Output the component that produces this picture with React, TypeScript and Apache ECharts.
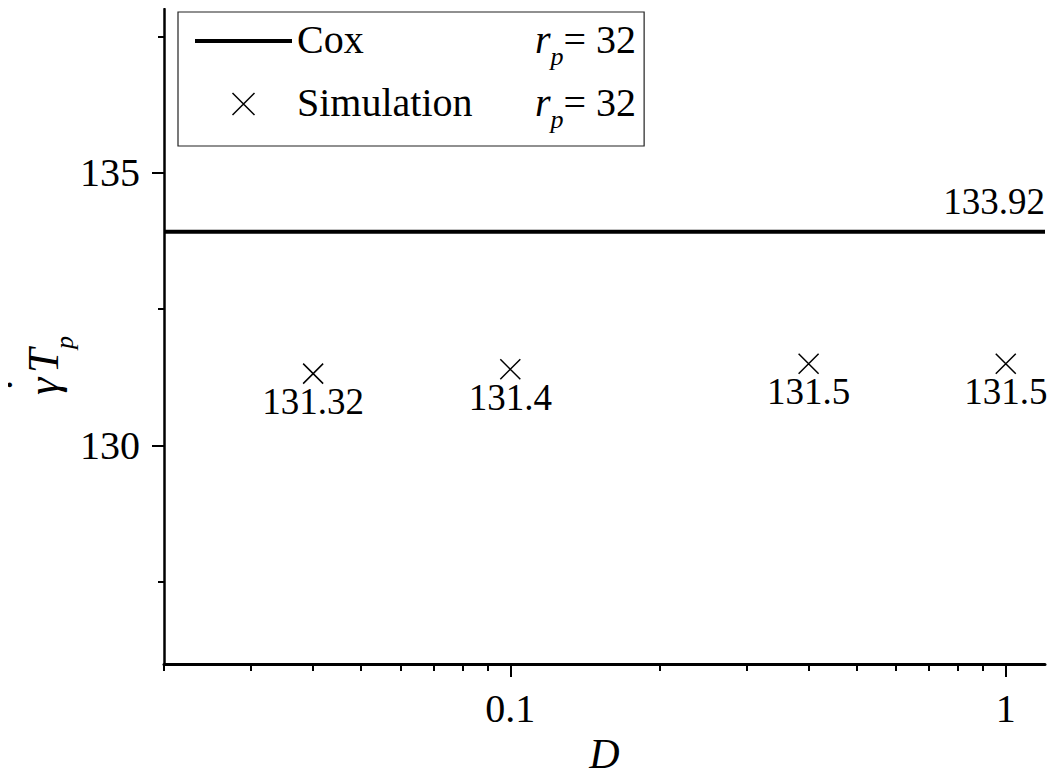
import React, { useEffect, useRef } from "react";
import * as echarts from "echarts";

// Diffusion coefficient D on the x axis (log scale), shear time on the y axis
const dRange = [0.02, 1.2];
const yRange = [126, 138];
const simD = [0.04, 0.1, 0.4, 1];
const simValues = [131.32, 131.4, 131.5, 131.5];
const coxValue = 133.92;
const rpValue = 32;
const seriesNames = ["Cox", "Simulation"];
const xMajorTicks = [0.1, 1];
const xMinorTicks = [0.02, 0.03, 0.04, 0.05, 0.06, 0.07, 0.08, 0.09, 0.2, 0.3, 0.4, 0.5, 0.6, 0.7, 0.8, 0.9];
const yMajorTicks = [130, 135];
const yMinorTicks = [127.5, 132.5, 137.5];

const FONT = "Liberation Serif, Times New Roman, serif";
const CROSS = "path://M0,0L20,20M20,0L0,20";

function buildOption(): echarts.EChartsCoreOption {
  const baseAxis = {
    splitLine: { show: false },
    minorTick: { show: false },
    minorSplitLine: { show: false },
  };
  const tokenBase = { fontFamily: FONT, color: "#000", verticalAlign: "top" };
  return {
    animation: false,
    backgroundColor: "#fff",
    grid: {
      left: 164,
      top: 9,
      width: 881,
      height: 655,
      containLabel: false,
      outerBoundsMode: "none",
    },
    legend: {
      orient: "vertical",
      left: 178,
      top: 12,
      padding: [7, 8, 14, 15],
      itemGap: 13,
      itemWidth: 97,
      itemHeight: 22,
      borderColor: "#222",
      borderWidth: 1.2,
      borderRadius: 0,
      selectedMode: false,
      lineStyle: { width: 4, color: "#000" },
      data: [
        {
          name: seriesNames[0],
          itemStyle: { color: "rgba(0,0,0,0)", borderWidth: 0, opacity: 0 },
        },
        {
          name: seriesNames[1],
          itemStyle: { color: "none", borderColor: "#000", borderWidth: 1.5, opacity: 1 },
        },
      ],
      formatter: (name: string) => `{a|${name}}{r|r}{p|p}{e|= ${rpValue}}`,
      textStyle: {
        fontFamily: FONT,
        fontSize: 40,
        color: "#000",
        rich: {
          a: { ...tokenBase, width: 238, fontSize: 40, lineHeight: 44 },
          r: { ...tokenBase, fontSize: 40, fontStyle: "italic", lineHeight: 44 },
          p: { ...tokenBase, fontSize: 26, fontStyle: "italic", lineHeight: 26, padding: [24, 0, 0, 0] },
          e: { ...tokenBase, fontSize: 40, lineHeight: 44 },
        },
      },
    },
    xAxis: [
      {
        ...baseAxis,
        type: "log",
        logBase: 10,
        min: dRange[0],
        max: dRange[1],
        position: "bottom",
        name: "D",
        nameLocation: "middle",
        nameGap: 51,
        nameTextStyle: { fontFamily: FONT, fontSize: 42, fontStyle: "italic", color: "#000" },
        axisLine: { show: true, onZero: false, lineStyle: { color: "#000", width: 3 } },
        axisTick: { show: true, length: 13, customValues: xMajorTicks, lineStyle: { color: "#000", width: 2 } },
        axisLabel: {
          show: true,
          customValues: xMajorTicks,
          formatter: (v: number) => String(v),
          fontFamily: FONT,
          fontSize: 40,
          color: "#000",
          margin: 24,
        },
      },
      {
        ...baseAxis,
        type: "log",
        logBase: 10,
        min: dRange[0],
        max: dRange[1],
        position: "bottom",
        offset: 0,
        axisLine: { show: false, onZero: false },
        axisTick: { show: true, length: 7, customValues: xMinorTicks, lineStyle: { color: "#000", width: 2 } },
        axisLabel: { show: false },
      },
    ],
    yAxis: [
      {
        ...baseAxis,
        type: "value",
        min: yRange[0],
        max: yRange[1],
        position: "left",
        axisLine: { show: true, onZero: false, lineStyle: { color: "#000", width: 2.5 } },
        axisTick: { show: true, length: 12, customValues: yMajorTicks, lineStyle: { color: "#000", width: 2 } },
        axisLabel: {
          show: true,
          customValues: yMajorTicks,
          fontFamily: FONT,
          fontSize: 40,
          color: "#000",
          margin: 24,
        },
      },
      {
        ...baseAxis,
        type: "value",
        min: yRange[0],
        max: yRange[1],
        position: "left",
        offset: 0,
        axisLine: { show: false, onZero: false },
        axisTick: { show: true, length: 6, customValues: yMinorTicks, lineStyle: { color: "#000", width: 2 } },
        axisLabel: { show: false },
      },
    ],
    series: [
      {
        name: seriesNames[0],
        type: "line",
        xAxisIndex: 0,
        yAxisIndex: 0,
        symbol: "none",
        clip: false,
        lineStyle: { color: "#000", width: 4 },
        itemStyle: { color: "#000" },
        data: dRange.map((d, i) =>
          i === dRange.length - 1
            ? {
                value: [d, coxValue],
                symbol: "circle",
                symbolSize: 1,
                itemStyle: { color: "rgba(0,0,0,0)", borderWidth: 0 },
                label: {
                  show: true,
                  position: "top",
                  align: "right",
                  distance: 11,
                  formatter: (p: any) => p.value[1].toFixed(2),
                  fontFamily: FONT,
                  fontSize: 37,
                  color: "#000",
                },
              }
            : [d, coxValue]
        ),
      },
      {
        name: seriesNames[1],
        type: "scatter",
        xAxisIndex: 0,
        yAxisIndex: 0,
        symbol: CROSS,
        symbolSize: 20,
        symbolKeepAspect: true,
        itemStyle: { color: "none", borderColor: "#000", borderWidth: 1.5, opacity: 1 },
        label: {
          show: true,
          position: "bottom",
          distance: -3,
          formatter: (p: any) => String(p.value[1]),
          fontFamily: FONT,
          fontSize: 37,
          color: "#000",
        },
        data: simD.map((d, i) => [d, simValues[i]]),
      },
    ],
    graphic: [
      {
        // rotated axis title: gamma-dot T_p
        type: "group",
        x: 58,
        y: 395,
        rotation: Math.PI / 2,
        children: [
          {
            type: "text",
            x: 10,
            y: -40,
            style: { text: "˙", font: `bold 32px ${FONT}`, fill: "#000", align: "center", verticalAlign: "middle" },
          },
          {
            type: "text",
            x: 0,
            y: -15,
            style: { text: "γ", font: `italic 44px ${FONT}`, fill: "#000", align: "left", verticalAlign: "middle" },
          },
          {
            type: "text",
            x: 22,
            y: -15,
            style: { text: "T", font: `italic 44px ${FONT}`, fill: "#000", align: "left", verticalAlign: "middle" },
          },
          {
            type: "text",
            x: 46,
            y: 6,
            style: { text: "p", font: `italic 26px ${FONT}`, fill: "#000", align: "left", verticalAlign: "middle" },
          },
        ],
      },
    ],
  };
}

export default function App() {
  const ref = useRef<HTMLDivElement>(null);
  useEffect(() => {
    if (!ref.current) return;
    const chart = echarts.init(ref.current, undefined, { renderer: "svg" });
    chart.setOption(buildOption());
    return () => chart.dispose();
  }, []);
  return <div ref={ref} style={{ width: 1058, height: 776, margin: -8 }} />;
}
